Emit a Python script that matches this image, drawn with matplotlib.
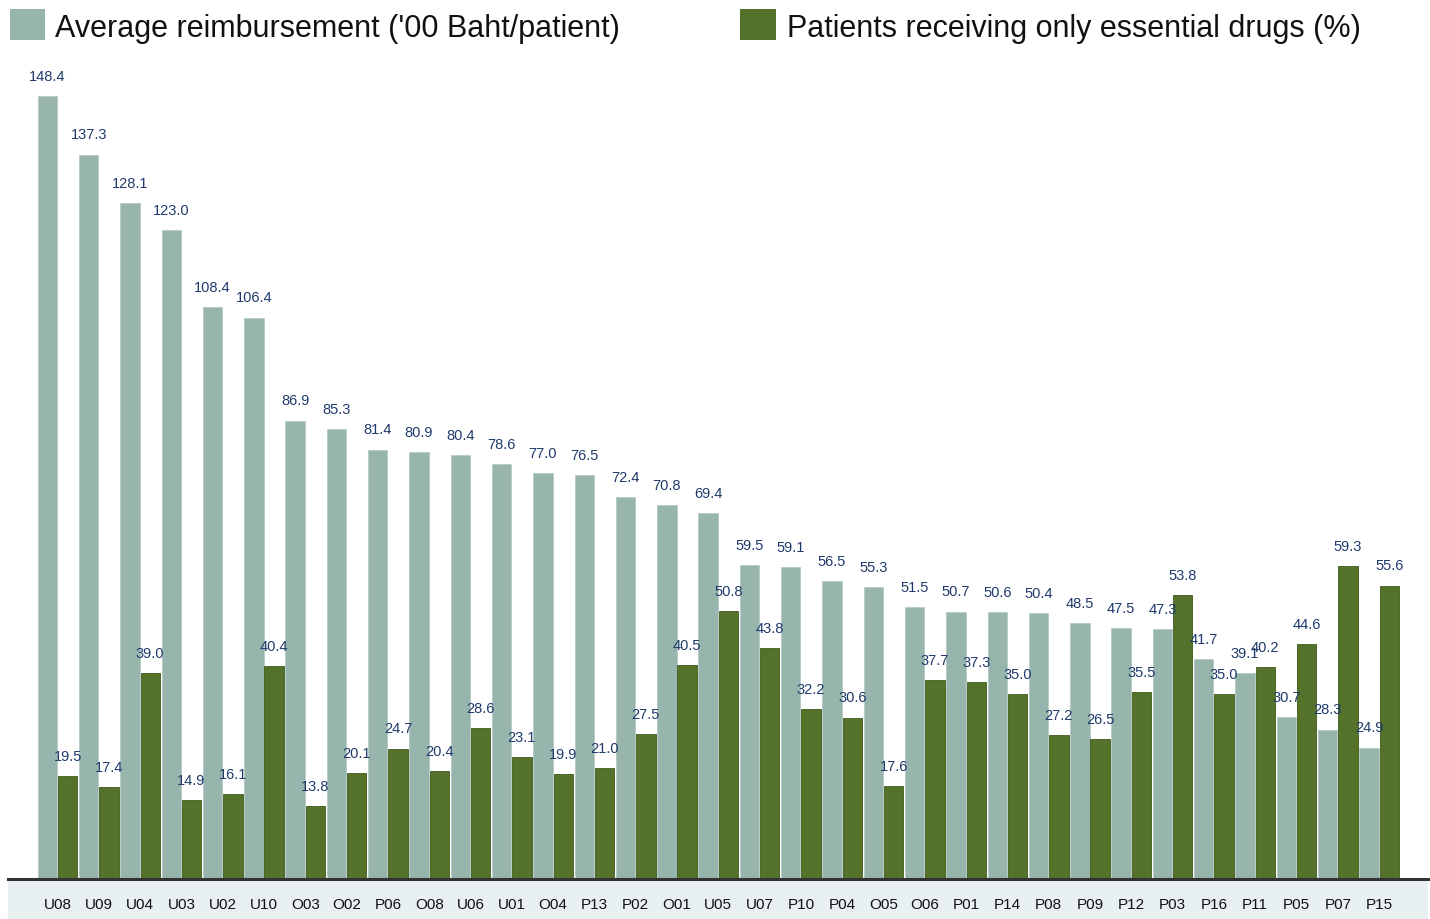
import numpy as np
import matplotlib.pyplot as plt
from matplotlib.patches import Rectangle

plt.rcParams['font.family'] = ['Liberation Sans', 'DejaVu Sans']

sites = ['U08', 'U09', 'U04', 'U03', 'U02', 'U10', 'O03', 'O02', 'P06', 'O08', 'U06',
         'U01', 'O04', 'P13', 'P02', 'O01', 'U05', 'U07', 'P10', 'P04', 'O05', 'O06',
         'P01', 'P14', 'P08', 'P09', 'P12', 'P03', 'P16', 'P11', 'P05', 'P07', 'P15']
reimbursement = [148.4, 137.3, 128.1, 123.0, 108.4, 106.4, 86.9, 85.3, 81.4, 80.9, 80.4,
                 78.6, 77.0, 76.5, 72.4, 70.8, 69.4, 59.5, 59.1, 56.5, 55.3, 51.5,
                 50.7, 50.6, 50.4, 48.5, 47.5, 47.3, 41.7, 39.1, 30.7, 28.3, 24.9]
essential = [19.5, 17.4, 39.0, 14.9, 16.1, 40.4, 13.8, 20.1, 24.7, 20.4, 28.6,
             23.1, 19.9, 21.0, 27.5, 40.5, 50.8, 43.8, 32.2, 30.6, 17.6, 37.7,
             37.3, 35.0, 27.2, 26.5, 35.5, 53.8, 35.0, 40.2, 44.6, 59.3, 55.6]

gray = '#97b4ad'
green = '#55722b'
label_col = '#1f3a6b'

W, H = 1430, 920
fig = plt.figure(figsize=(W / 100, H / 100), dpi=100)

# light band under the bars (drawn first, behind everything)
fig.patches.append(Rectangle((8 / W, 0), 1420 / W, 40 / H, transform=fig.transFigure,
                             facecolor='#e9f0f2', edgecolor='none', zorder=-5))

# axes spans the band from x=8 to x=1428, baseline at y=880
ax = fig.add_axes([8 / W, 40 / H, 1420 / W, 880 / H])
ax.patch.set_alpha(0)
step = 41.3
x0 = 57.5
ax.set_xlim((8 - x0) / step, (1428 - x0) / step)
ax.set_ylim(0, 880 / 5.276)

x = np.arange(len(sites))
bw = 0.47
b1 = ax.bar(x - 0.245, reimbursement, bw, color=gray, edgecolor='#b5cbc6', linewidth=0.6)
b2 = ax.bar(x + 0.245, essential, bw, color=green, edgecolor='#3f5a1c', linewidth=0.6)

for bars, vals in ((b1, reimbursement), (b2, essential)):
    for r, v in zip(bars, vals):
        ax.text(r.get_x() + r.get_width() / 2, v + 2.5, f'{v:.1f}',
                ha='center', va='bottom', fontsize=10.5, color=label_col)

for s in ax.spines.values():
    s.set_visible(False)
ax.set_yticks([])
ax.set_xticks(x)
ax.set_xticklabels(sites, fontsize=11, color='#111111')
ax.tick_params(axis='x', length=0, pad=13)
ax.axhline(0, color='#333333', linewidth=2.2, clip_on=False)

# legend at top
fig.patches.append(Rectangle((10 / W, 1 - 41 / H), 35 / W, 31 / H, transform=fig.transFigure,
                             facecolor=gray, edgecolor='none'))
fig.text(55 / W, 1 - 29 / H, "Average reimbursement ('00 Baht/patient)",
         fontsize=22, va='center', ha='left', color='#111111')
fig.patches.append(Rectangle((740 / W, 1 - 41 / H), 36 / W, 31 / H, transform=fig.transFigure,
                             facecolor=green, edgecolor='none'))
fig.text(787 / W, 1 - 29 / H, 'Patients receiving only essential drugs (%)',
         fontsize=22, va='center', ha='left', color='#111111')

fig.savefig('out.png', dpi=100)
